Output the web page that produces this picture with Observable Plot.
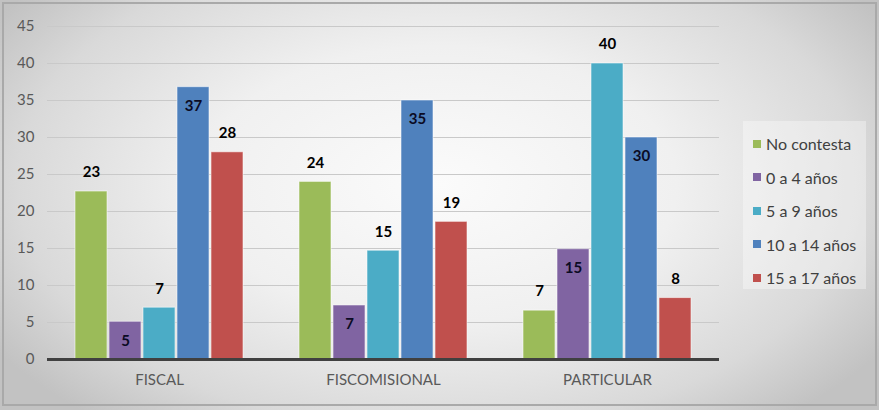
<!DOCTYPE html>
<html>
<head>
<meta charset="utf-8">
<script src="https://cdn.jsdelivr.net/npm/d3@7"></script>
<script src="https://cdn.jsdelivr.net/npm/@observablehq/plot@0.6"></script>
<style>
  html, body { margin: 0; padding: 0; }
  #wrap {
    position: relative; width: 879px; height: 410px; overflow: hidden;
    background: radial-gradient(ellipse 60% 75% at 50% 45%, #fbfbfb 0%, #f0f0f0 45%, #d9d9d9 80%, #c2c2c2 100%);
    font-family: Lato, "Open Sans", sans-serif;
  }
  #frame {
    position: absolute; left: 2px; top: 2px; right: 2px; bottom: 4px;
    border: 2px solid #a9a9a9; pointer-events: none;
  }
  #chart svg { position: absolute; left: 0; top: 0; background: transparent; }
  #legend {
    position: absolute; left: 743px; top: 121px; width: 123px; height: 168px;
    background: rgba(255,255,255,0.35); box-sizing: border-box; padding-top: 6px;
  }
  .item { height: 33.5px; display: flex; align-items: center; padding-left: 10px;
          font-size: 16px; color: #404040; }
  .sw { width: 8px; height: 8px; margin-right: 5px; }
</style>
</head>
<body>
<div id="wrap">
  <div id="chart"></div>
  <div id="legend"></div>
  <div id="frame"></div>
</div>
<script>
const groups = ["FISCAL", "FISCOMISIONAL", "PARTICULAR"];
const series = ["No contesta", "0 a 4 años", "5 a 9 años", "10 a 14 años", "15 a 17 años"];
const fiscal = [22.7, 5.1, 7.0, 36.8, 28.0];
const fiscomisional = [24.0, 7.3, 14.7, 35.0, 18.6];
const particular = [6.6, 14.9, 40.0, 30.0, 8.3];
const yTicks = [0, 5, 10, 15, 20, 25, 30, 35, 40, 45];
const colors = ["#9bbb59", "#8064a2", "#4bacc6", "#4f81bd", "#c0504d"];
const insideSeries = ["0 a 4 años", "10 a 14 años"];

const valuesByGroup = [fiscal, fiscomisional, particular];
const data = [];
groups.forEach((g, gi) => series.forEach((s, si) => data.push({group: g, series: s, value: valuesByGroup[gi][si]})));
const outside = data.filter(d => !insideSeries.includes(d.series));
const inside = data.filter(d => insideSeries.includes(d.series));

const chart = Plot.plot({
  width: 879,
  height: 410,
  marginLeft: 46,
  marginRight: 159,
  marginTop: 26,
  marginBottom: 51,
  style: {background: "transparent", fontFamily: "Lato, 'Open Sans', sans-serif"},
  fx: {domain: groups, padding: 0, label: null},
  x: {domain: series, paddingInner: 0.057, paddingOuter: 0.74, axis: null},
  y: {domain: [0, 45], label: null},
  color: {domain: series, range: colors},
  marks: [
    Plot.gridY(yTicks, {stroke: "#c9c9c9", strokeOpacity: 1, strokeWidth: 1}),
    Plot.axisY(yTicks, {tickSize: 0, tickPadding: 13, fontSize: 15, fill: "#595959", label: null}),
    Plot.axisFx({anchor: "bottom", tickSize: 0, tickPadding: 15, fontSize: 15, fill: "#595959", label: null}),
    Plot.barY(data, {fx: "group", x: "series", y: "value", fill: "series", stroke: "#ffffff", strokeOpacity: 0.55, strokeWidth: 1}),
    Plot.ruleY([0], {stroke: "#404040", strokeWidth: 3}),
    Plot.text(outside, {fx: "group", x: "series", y: "value", text: d => String(Math.round(d.value)), dy: -19, fontSize: 15, fontWeight: "bold", fill: "#000"}),
    Plot.text(inside, {fx: "group", x: "series", y: "value", text: d => String(Math.round(d.value)), dy: 19, fontSize: 15, fontWeight: "bold", fill: "#0b0b24"})
  ]
});
document.getElementById("chart").appendChild(chart);

const legend = document.getElementById("legend");
series.forEach((s, i) => {
  const it = document.createElement("div");
  it.className = "item";
  it.innerHTML = `<span class="sw" style="background:${colors[i]}"></span><span>${s}</span>`;
  legend.appendChild(it);
});
</script>
</body>
</html>
